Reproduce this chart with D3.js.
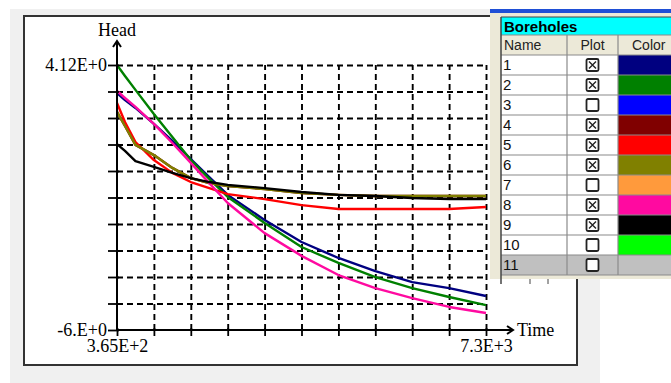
<!DOCTYPE html>
<html>
<head>
<meta charset="utf-8">
<script src="https://cdn.jsdelivr.net/npm/d3@7"></script>
<style>
  html, body { margin: 0; padding: 0; background: #ffffff; }
  svg { display: block; }
</style>
</head>
<body>
<svg id="chart" width="671" height="383"></svg>
<script>
// ---------- DATA ----------
const times = [365, 515, 712, 1058, 1405, 1752, 2099, 2446, 3139, 3833, 4526, 5220, 5913, 6607, 7300];
const head1 = [3.05, 2.78, 2.48, 1.87, 1.22, 0.53, -0.16, -0.84, -1.80, -2.64, -3.25, -3.75, -4.17, -4.40, -4.70];
const head2 = [4.12, 3.70, 3.17, 2.25, 1.37, 0.49, -0.23, -0.92, -1.91, -2.83, -3.44, -3.98, -4.40, -4.74, -5.05];
const head4 = [2.33, 1.79, 1.07, 0.68, 0.19, -0.20, -0.39, -0.50, -0.62, -0.77, -0.84, -0.88, -0.88, -0.88, -0.88];
const head5 = [2.67, 1.94, 1.18, 0.49, 0.00, -0.35, -0.58, -0.81, -1.00, -1.23, -1.38, -1.38, -1.38, -1.38, -1.30];
const head6 = [2.33, 1.79, 1.07, 0.68, 0.19, -0.20, -0.39, -0.50, -0.62, -0.77, -0.84, -0.88, -0.88, -0.88, -0.88];
const head8 = [3.13, 2.86, 2.52, 1.87, 1.14, 0.38, -0.39, -1.15, -2.30, -3.17, -3.90, -4.40, -4.78, -5.12, -5.35];
const head9 = [1.10, 0.84, 0.45, 0.23, 0.00, -0.20, -0.35, -0.46, -0.58, -0.73, -0.84, -0.88, -0.96, -1.00, -1.00];

const boreholeNames = ["1", "2", "3", "4", "5", "6", "7", "8", "9", "10", "11"];
const boreholeColors = ["#000080", "#008000", "#0000ff", "#800000", "#ff0000", "#808000", "#ff9a3c", "#ff0aa0", "#000000", "#00ff00", "#c0c0c0"];
const boreholePlotted = [true, true, false, true, true, true, false, true, true, false, false];
const plottedSeries = [
  { name: "1", values: head1 },
  { name: "2", values: head2 },
  { name: "4", values: head4 },
  { name: "5", values: head5 },
  { name: "6", values: head6 },
  { name: "8", values: head8 },
  { name: "9", values: head9 }
];

const xMin = 365, xMax = 7300;
const yMin = -6, yMax = 4.12;
const xTickLabels = ["3.65E+2", "7.3E+3"];
const yTickLabels = ["-6.E+0", "4.12E+0"];
const xAxisTitle = "Time";
const yAxisTitle = "Head";
const tableTitle = "Boreholes";
const tableHeaders = ["Name", "Plot", "Color"];

// ---------- LAYOUT ----------
const svg = d3.select("#chart");
const serif = "'Liberation Serif', 'Times New Roman', serif";
const sans = "'Liberation Sans', Arial, sans-serif";

// background panels
svg.append("rect").attr("x", 10).attr("y", 9).attr("width", 590).attr("height", 374).attr("fill", "#f0f0f0");
svg.append("rect").attr("x", 24).attr("y", 16).attr("width", 553).attr("height", 349)
  .attr("fill", "#ffffff").attr("stroke", "#333").attr("stroke-width", 2);

const x = d3.scaleLinear().domain([xMin, xMax]).range([117, 486]);
const y = d3.scaleLinear().domain([yMin, yMax]).range([330, 65]);

const nDiv = 10;
const xTicks = d3.range(nDiv + 1).map(i => xMin + i * (xMax - xMin) / nDiv);
const yTicks = d3.range(nDiv + 1).map(i => yMin + i * (yMax - yMin) / nDiv);

// grid (dashed)
const gridX = svg.append("g").attr("transform", `translate(0,${y(yMin)})`)
  .call(d3.axisBottom(x).tickValues(xTicks.slice(1)).tickSize(-(y(yMin) - y(yMax))).tickFormat(""));
gridX.select(".domain").remove();
gridX.selectAll("line").attr("stroke", "#000").attr("stroke-width", 1.9).attr("stroke-dasharray", "6,4");

const gridY = svg.append("g").attr("transform", `translate(${x(xMin)},0)`)
  .call(d3.axisLeft(y).tickValues(yTicks.slice(1)).tickSize(-(x(xMax) - x(xMin))).tickFormat(""));
gridY.select(".domain").remove();
gridY.selectAll("line").attr("stroke", "#000").attr("stroke-width", 1.9).attr("stroke-dasharray", "6,4");

// series lines
const line = d3.line().x((d, i) => x(times[i])).y(d => y(d));
const colorOf = name => boreholeColors[boreholeNames.indexOf(name)];
svg.append("g").selectAll("path").data(plottedSeries.filter(s => boreholePlotted[boreholeNames.indexOf(s.name)]))
  .join("path")
  .attr("d", d => line(d.values))
  .attr("fill", "none")
  .attr("stroke", d => colorOf(d.name))
  .attr("stroke-width", 2.4)
  .attr("stroke-linejoin", "round");

// axes
const yAxis = svg.append("g").attr("transform", `translate(${x(xMin)},0)`)
  .call(d3.axisLeft(y).tickValues(yTicks).tickSize(9).tickPadding(1)
    .tickFormat((d, i) => i === 0 ? yTickLabels[0] : (i === yTicks.length - 1 ? yTickLabels[1] : "")));
yAxis.select(".domain").remove();
yAxis.selectAll("line").attr("stroke", "#000").attr("stroke-width", 1.8).attr("x2", -9).attr("x1", 2);
yAxis.selectAll("text").attr("font-family", serif).attr("font-size", 18).attr("fill", "#000");

const xAxis = svg.append("g").attr("transform", `translate(0,${y(yMin)})`)
  .call(d3.axisBottom(x).tickValues(xTicks).tickSize(6).tickPadding(3)
    .tickFormat((d, i) => i === 0 ? xTickLabels[0] : (i === xTicks.length - 1 ? xTickLabels[1] : "")));
xAxis.select(".domain").remove();
xAxis.selectAll("line").attr("stroke", "#000").attr("stroke-width", 1.8).attr("y1", -2).attr("y2", 6);
xAxis.selectAll("text").attr("font-family", serif).attr("font-size", 18).attr("fill", "#000");

// axis lines with arrows
const ax = svg.append("g").attr("stroke", "#000").attr("stroke-width", 2).attr("fill", "none");
ax.append("line").attr("x1", x(xMin)).attr("x2", x(xMin)).attr("y1", 41).attr("y2", y(yMin));
ax.append("line").attr("x1", x(xMin)).attr("x2", 513).attr("y1", y(yMin)).attr("y2", y(yMin));
ax.append("polyline").attr("points", `${x(xMin) - 4},47 ${x(xMin)},41 ${x(xMin) + 4},47`);
ax.append("polyline").attr("points", `507,${y(yMin) - 4} 513,${y(yMin)} 507,${y(yMin) + 4}`);

svg.append("text").attr("x", x(xMin)).attr("y", 36).attr("text-anchor", "middle")
  .attr("font-family", serif).attr("font-size", 18).text(yAxisTitle);
svg.append("text").attr("x", 517).attr("y", 336).attr("text-anchor", "start")
  .attr("font-family", serif).attr("font-size", 18).text(xAxisTitle);

// ---------- BOREHOLES PANEL ----------
const panel = svg.append("g");
panel.append("rect").attr("x", 490).attr("y", 10).attr("width", 181).attr("height", 269).attr("fill", "#ece9d8");
panel.append("rect").attr("x", 490).attr("y", 9).attr("width", 181).attr("height", 4).attr("fill", "#1f4fd6");

const tX = 501, colX = [501, 567, 618, 671];
const titleY = 17, headY = 35, rowH = 20, firstRowY = 55;
panel.append("rect").attr("x", tX).attr("y", titleY).attr("width", 671 - tX).attr("height", headY - titleY)
  .attr("fill", "#00ffff");
panel.append("text").attr("x", 504).attr("y", 32).attr("font-family", sans).attr("font-weight", "bold")
  .attr("font-size", 15).text(tableTitle);

panel.append("rect").attr("x", tX).attr("y", headY).attr("width", 671 - tX).attr("height", rowH)
  .attr("fill", "#ece9d8");
tableHeaders.forEach((h, i) => {
  const cx = i === 0 ? 504 : (i === 1 ? (colX[1] + colX[2]) / 2 : 632);
  panel.append("text").attr("x", cx).attr("y", headY + 15)
    .attr("text-anchor", i === 1 ? "middle" : "start")
    .attr("font-family", sans).attr("font-size", 14).attr("fill", "#222").text(h);
});

const rows = panel.append("g").selectAll("g").data(boreholeNames).join("g")
  .attr("transform", (d, i) => `translate(0,${firstRowY + i * rowH})`);
rows.append("rect").attr("x", tX).attr("y", 0).attr("width", colX[2] - tX).attr("height", rowH)
  .attr("fill", (d, i) => i === 10 ? "#c0c0c0" : "#ffffff");
rows.append("rect").attr("x", colX[2]).attr("y", 0).attr("width", 671 - colX[2]).attr("height", rowH)
  .attr("fill", (d, i) => boreholeColors[i]);
rows.append("text").attr("x", 503).attr("y", 15).attr("font-family", sans).attr("font-size", 15)
  .attr("fill", "#111").text(d => d);
// checkboxes
const cbx = (colX[1] + colX[2]) / 2;
rows.append("rect").attr("x", cbx - 6).attr("y", 4).attr("width", 12).attr("height", 12).attr("rx", 1.5)
  .attr("fill", "#fff").attr("stroke", "#222").attr("stroke-width", 1.8);
rows.filter((d, i) => boreholePlotted[i]).append("path")
  .attr("d", `M${cbx - 3.5},6.5 L${cbx + 3.5},13.5 M${cbx + 3.5},6.5 L${cbx - 3.5},13.5`)
  .attr("stroke", "#222").attr("stroke-width", 1.4);

// table grid lines
const tableBottom = firstRowY + boreholeNames.length * rowH;
const tl = panel.append("g").attr("stroke", "#8a8a8a").attr("stroke-width", 1.2);
d3.range(boreholeNames.length + 2).forEach(i => {
  const yy = headY + i * rowH;
  tl.append("line").attr("x1", tX).attr("x2", 671).attr("y1", yy).attr("y2", yy);
});
[colX[1], colX[2]].forEach(cx => tl.append("line").attr("x1", cx).attr("x2", cx).attr("y1", headY).attr("y2", tableBottom));
panel.append("line").attr("x1", tX).attr("x2", tX).attr("y1", titleY).attr("y2", 284)
  .attr("stroke", "#444").attr("stroke-width", 1.5);
panel.append("line").attr("x1", tX).attr("x2", 671).attr("y1", titleY).attr("y2", titleY)
  .attr("stroke", "#444").attr("stroke-width", 1.2);
[530, 548].forEach(px => panel.append("line").attr("x1", px).attr("x2", px).attr("y1", 279).attr("y2", 284)
  .attr("stroke", "#444").attr("stroke-width", 1));
</script>
</body>
</html>
